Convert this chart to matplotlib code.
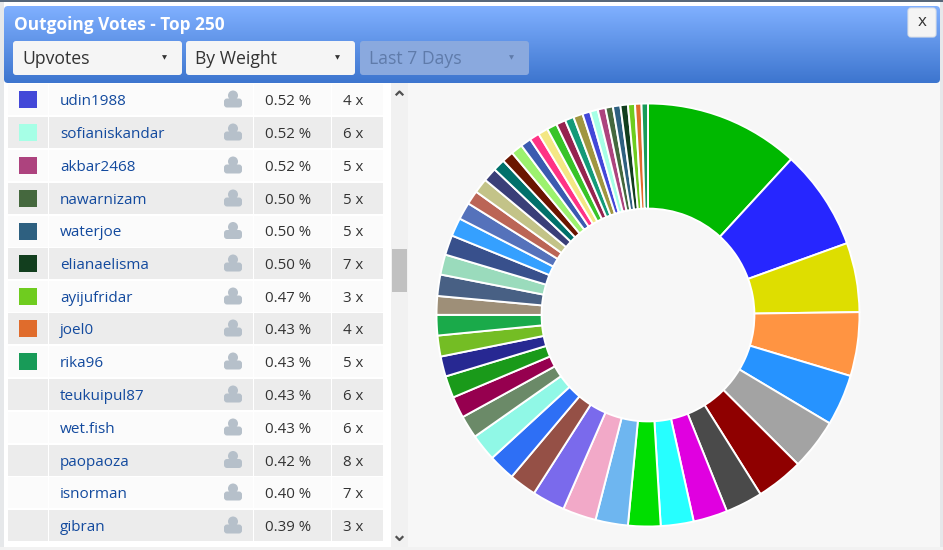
import matplotlib
matplotlib.use("Agg")
import matplotlib.pyplot as plt
from matplotlib.patches import Rectangle, FancyBboxPatch, Circle
import numpy as np

plt.rcParams['font.family'] = ['Open Sans', 'DejaVu Sans']

TITLE = "Outgoing Votes - Top 250"
DROPDOWNS = ["Upvotes", "By Weight", "Last 7 Days"]

names = ["udin1988", "sofianiskandar", "akbar2468", "nawarnizam", "waterjoe",
         "elianaelisma", "ayijufridar", "joel0", "rika96", "teukuipul87",
         "wet.fish", "paopaoza", "isnorman", "gibran"]
percents = [0.52, 0.52, 0.52, 0.50, 0.50, 0.50, 0.47, 0.43, 0.43, 0.43, 0.43, 0.42, 0.40, 0.39]
counts = [4, 6, 5, 5, 5, 7, 3, 4, 5, 6, 6, 8, 7, 3]
swatches = ["#4348d8", "#a6ffe6", "#ad437e", "#45683e", "#2e6080", "#123e1e",
            "#6fcc1f", "#e06c2c", "#189b58", None, None, None, None, None]

slice_values = [10.37, 6.71, 4.64, 4.27, 3.42, 3.42, 3.17, 2.49, 2.29, 2.20,
                2.17, 2.17, 2.24, 2.20, 1.83, 1.79, 1.81, 1.52, 1.44, 1.47,
                1.35, 1.40, 1.37, 1.25, 1.43, 1.35, 1.33, 1.23, 1.15, 0.93,
                0.98, 0.93, 0.81, 0.78, 0.78, 0.71, 0.66, 0.66, 0.68, 0.63,
                0.59, 0.63,
                0.52, 0.52, 0.52, 0.50, 0.50, 0.50, 0.47, 0.43, 0.43]
slice_colors = ["#00b800", "#2626ff", "#dede00", "#ff9442", "#2693ff", "#a3a3a3",
                "#8f0000", "#4a4a4a", "#e000e0", "#26ffff", "#00de00", "#6eb6f0",
                "#f2a9c8", "#7a6aec", "#955046", "#2e6ff5", "#90f8e6", "#6b8a68",
                "#96004f", "#1a9a1a", "#272892", "#74bd24", "#1aaa4a", "#9e8f78",
                "#486084", "#9adbbc", "#38508c", "#35a0ff", "#5572bb", "#bb6556",
                "#c3c388", "#3a3f78", "#00706a", "#6b1500", "#9cf26e", "#3b5bb0",
                "#ff3385", "#f4e784", "#38c428", "#96234f", "#149a78", "#a09640",
                "#4348d8", "#a6ffe6", "#ad437e", "#45683e", "#2e6080", "#123e1e",
                "#6fcc1f", "#e06c2c", "#189b58"]

W, H = 943, 550
fig = plt.figure(figsize=(W / 100, H / 100), dpi=100, facecolor="#ffffff")
ax = fig.add_axes([0, 0, 1, 1])
ax.set_xlim(0, W)
ax.set_ylim(H, 0)
ax.axis("off")
pt = 0.72

def rect(x0, y0, x1, y1, color, z=1):
    ax.add_patch(Rectangle((x0, y0), x1 - x0, y1 - y0, fc=color, ec="none", zorder=z))

def rrect(x0, y0, x1, y1, color, r=3, z=3, ec="none"):
    p = FancyBboxPatch((x0 + r, y0 + r), x1 - x0 - 2 * r, y1 - y0 - 2 * r,
                       boxstyle=f"round,pad={r},rounding_size={r}", fc=color, ec=ec, lw=0.8, zorder=z)
    ax.add_patch(p)
    return p

# window
rect(0, 0, W, 2, "#56677a", 0)
rect(0, 2, 4, H, "#e6e8ea", 0)
rect(940, 2, W, H, "#e6e8ea", 0)
rect(4, 83, 391, 548, "#ffffff", 0.5)
rect(408, 83, 940, 548, "#f7f7f7", 0.5)
rect(0, 547, W, H, "#f2f2f2", 0.6)

# header gradient
clip = rrect(4, 6, 940, 83, "none", r=4, z=2)
grad = np.linspace(0, 1, 80)[:, None, None]
top = np.array([0.50, 0.69, 1.00])[None, None, :]
bot = np.array([0.24, 0.46, 0.81])[None, None, :]
im = ax.imshow(top * (1 - grad) + bot * grad, extent=(4, 940, 83, 6), aspect="auto", zorder=2)
im.set_clip_path(clip)
ax.set_xlim(0, W)
ax.set_ylim(H, 0)

ax.text(14, 24.5, TITLE, color="white", fontsize=17.3 * pt, fontweight="bold", va="center", zorder=5)

# close button
rrect(908, 8, 936, 37, "#f4f4f4", r=3, z=4, ec="#dde1e6")
ax.text(922, 22, "x", color="#333333", fontsize=17 * pt, ha="center", va="center", zorder=5)

# dropdowns
boxes = [(13, 182), (186, 355), (360, 529)]
for i, (label, (x0, x1)) in enumerate(zip(DROPDOWNS, boxes)):
    faded = i == 2
    rrect(x0, 41, x1, 75, "#8aa9de" if faded else "#f5f5f5", r=3, z=4)
    col = "#5f7baa" if faded else "#333333"
    ax.text(x0 + 9, 59.5, label, color=col, fontsize=17.6 * pt, va="center", zorder=5)
    ax.text(x1 - 18, 57.5, "\u25BC", color=col, fontsize=6.5 * pt, ha="center", va="center",
            family="DejaVu Sans", zorder=5)

# table
row_y = [99.5, 132.5, 165.5, 198.5, 231, 263.5, 296.5, 328.5, 361.5, 394.5, 427.5, 460, 492.5, 525.5]
cols = [(8, 48), (49, 253), (254, 331), (332, 383)]
for i, yc in enumerate(row_y):
    bg = "#ececec" if i % 2 else "#fbfbfb"
    for (x0, x1) in cols:
        rect(x0, yc - 15.5, x1, yc + 15.5, bg, 1)
    if swatches[i]:
        rect(19, yc - 8.5, 37, yc + 8.5, swatches[i], 2)
    ax.text(60, yc + 2, names[i], color="#134a9e", fontsize=15.3 * pt, va="center", zorder=3)
    ax.add_patch(Circle((233, yc - 4), 5, fc="#b6c0ca", ec="none", zorder=3))
    ax.add_patch(FancyBboxPatch((227, yc + 2), 12, 3, boxstyle="round,pad=3,rounding_size=3",
                                fc="#b6c0ca", ec="none", zorder=3))
    ax.text(288, yc + 2, f"{percents[i]:.2f} %", color="#333333", fontsize=15 * pt,
            ha="center", va="center", zorder=3)
    ax.text(353.5, yc + 2, f"{counts[i]} x", color="#333333", fontsize=15 * pt,
            ha="center", va="center", zorder=3)

# scrollbar
rect(391, 83, 408, 547, "#f1f1f1", 1)
rect(392, 249, 407, 292, "#c1c1c1", 2)
ax.plot([396.5, 399.5, 402.5], [94.5, 91.5, 94.5], color="#505050", lw=1.6, zorder=3)
ax.plot([396.5, 399.5, 402.5], [537, 540, 537], color="#505050", lw=1.6, zorder=3)

# donut
cx, cy, R = 648, 315, 211.5
pie_ax = fig.add_axes([(cx - R) / W, 1 - (cy + R) / H, 2 * R / W, 2 * R / H])
pie_ax.set_facecolor("none")
pie_ax.pie(slice_values, colors=slice_colors, startangle=90, counterclock=False, radius=1,
           wedgeprops=dict(width=0.497, edgecolor="#ffffff", linewidth=1.4))
pie_ax.set_xlim(-1, 1)
pie_ax.set_ylim(-1, 1)
pie_ax.axis("off")

fig.savefig("out.png", dpi=100, facecolor=fig.get_facecolor())
